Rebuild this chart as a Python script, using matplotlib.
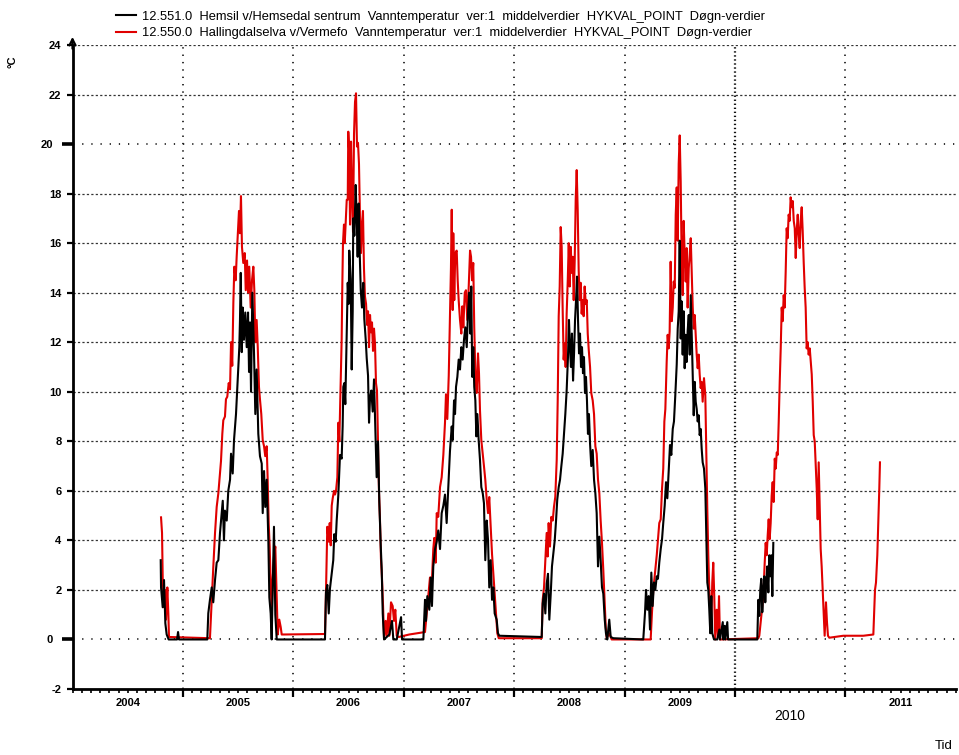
import matplotlib
matplotlib.use('Agg')
from matplotlib import pyplot as plt
from matplotlib import transforms
from matplotlib.ticker import FixedLocator, MultipleLocator, FormatStrFormatter

plt.rcParams['font.family'] = ['Liberation Sans', 'DejaVu Sans']
plt.rcParams['lines.scale_dashes'] = False

# time as decimal year, temperature in deg C (daily means)
hemsil_04 = [(2004.799, 3.2), (2004.802, 2.1), (2004.817, 1.3), (2004.829, 2.4), (2004.841, 0.65), (2004.853, 0.2),
             (2004.871, 0.0), (2004.947, 0.0), (2004.956, 0.3), (2004.965, 0.0)]
hemsil_05 = [(2005.221, 0.0), (2005.230, 1.06), (2005.245, 1.6), (2005.261, 2.1), (2005.275, 1.5), (2005.291, 2.4),
             (2005.306, 3.1), (2005.321, 3.2), (2005.336, 4.3), (2005.351, 5.1), (2005.361, 5.6), (2005.372, 4.0),
             (2005.381, 5.2), (2005.397, 4.8), (2005.411, 6.0), (2005.427, 6.45), (2005.436, 7.5), (2005.451, 6.7),
             (2005.463, 8.05), (2005.481, 9.1), (2005.493, 10.2), (2005.502, 11.0), (2005.511, 11.8), (2005.517, 12.9),
             (2005.524, 14.8), (2005.533, 11.6), (2005.542, 13.4), (2005.553, 12.1), (2005.565, 13.2), (2005.578, 11.8),
             (2005.590, 13.2), (2005.599, 10.8), (2005.608, 12.8), (2005.617, 10.0), (2005.629, 14.0), (2005.644, 11.6),
             (2005.656, 9.1), (2005.668, 10.9), (2005.683, 8.3), (2005.698, 7.4), (2005.714, 7.1), (2005.723, 5.1),
             (2005.735, 6.8), (2005.746, 5.35), (2005.759, 6.45), (2005.774, 4.0), (2005.783, 1.7), (2005.795, 1.05),
             (2005.804, 0.0), (2005.825, 4.55), (2005.837, 1.0), (2005.850, 0.0)]
hemsil_06 = [(2006.287, 0.0), (2006.296, 1.9), (2006.308, 2.2), (2006.321, 1.05), (2006.332, 2.05), (2006.348, 2.65),
             (2006.362, 3.2), (2006.371, 4.25), (2006.384, 3.95), (2006.393, 4.8), (2006.408, 5.85), (2006.417, 6.85),
             (2006.423, 7.45), (2006.438, 7.3), (2006.447, 8.6), (2006.453, 10.2), (2006.462, 10.35), (2006.471, 9.5),
             (2006.484, 12.4), (2006.493, 14.4), (2006.502, 13.55), (2006.507, 15.7), (2006.520, 14.55), (2006.529, 10.9),
             (2006.538, 13.25), (2006.543, 17.0), (2006.553, 16.3), (2006.565, 18.35), (2006.574, 17.0), (2006.583, 15.45),
             (2006.592, 17.6), (2006.601, 15.7), (2006.611, 14.1), (2006.622, 13.4), (2006.634, 14.4), (2006.643, 12.95),
             (2006.656, 12.1), (2006.665, 11.35), (2006.677, 10.65), (2006.686, 8.75), (2006.695, 9.75), (2006.707, 10.05),
             (2006.719, 9.2), (2006.731, 10.5), (2006.743, 8.6), (2006.755, 6.55), (2006.767, 8.0), (2006.779, 5.55),
             (2006.792, 3.8), (2006.801, 2.8), (2006.810, 1.05), (2006.822, 0.0), (2006.846, 0.1), (2006.870, 0.2),
             (2006.894, 0.75), (2006.906, 0.0), (2006.937, 0.0), (2006.976, 0.9), (2006.985, 0.0)]
hemsil_07 = [(2007.178, 0.0), (2007.193, 1.6), (2007.202, 0.75), (2007.214, 1.75), (2007.232, 1.2), (2007.245, 2.5),
             (2007.256, 1.35), (2007.268, 2.95), (2007.284, 3.65), (2007.299, 3.95), (2007.313, 4.4), (2007.329, 3.65),
             (2007.344, 5.1), (2007.359, 5.4), (2007.374, 5.85), (2007.389, 4.7), (2007.404, 6.15), (2007.419, 7.6),
             (2007.435, 8.6), (2007.444, 8.05), (2007.456, 9.65), (2007.465, 9.1), (2007.474, 10.2), (2007.486, 10.6),
             (2007.498, 11.3), (2007.510, 10.9), (2007.522, 11.8), (2007.534, 11.3), (2007.546, 12.1), (2007.558, 12.6),
             (2007.571, 11.8), (2007.582, 13.15), (2007.594, 14.0), (2007.603, 12.35), (2007.612, 14.25), (2007.621, 10.6),
             (2007.630, 11.8), (2007.639, 10.2), (2007.649, 9.65), (2007.658, 8.2), (2007.667, 9.1), (2007.679, 8.05),
             (2007.691, 7.25), (2007.703, 6.15), (2007.716, 5.9), (2007.727, 5.5), (2007.739, 3.2), (2007.752, 4.8),
             (2007.764, 4.0), (2007.775, 2.1), (2007.788, 3.2), (2007.800, 1.6), (2007.812, 2.1), (2007.824, 1.05),
             (2007.842, 0.8), (2007.854, 0.25), (2007.866, 0.15)]
hemsil_08 = [(2008.250, 0.1), (2008.259, 1.45), (2008.271, 1.85), (2008.283, 1.05), (2008.295, 2.25), (2008.307, 2.65),
             (2008.319, 0.8), (2008.332, 1.85), (2008.343, 2.95), (2008.355, 3.45), (2008.368, 4.0), (2008.380, 4.8),
             (2008.391, 5.65), (2008.404, 6.15), (2008.416, 6.45), (2008.428, 7.0), (2008.440, 7.5), (2008.452, 8.3),
             (2008.464, 9.1), (2008.476, 10.05), (2008.488, 11.4), (2008.497, 12.9), (2008.506, 11.8), (2008.515, 11.0),
             (2008.524, 12.35), (2008.534, 10.45), (2008.543, 11.55), (2008.552, 12.9), (2008.561, 13.7), (2008.570, 14.65),
             (2008.579, 12.9), (2008.588, 11.55), (2008.597, 12.35), (2008.606, 11.0), (2008.615, 11.8), (2008.624, 10.75),
             (2008.633, 11.4), (2008.642, 9.95), (2008.651, 10.6), (2008.660, 9.65), (2008.669, 8.3), (2008.678, 9.1),
             (2008.688, 7.9), (2008.699, 7.0), (2008.712, 7.65), (2008.724, 6.45), (2008.736, 5.9), (2008.748, 5.1),
             (2008.760, 2.95), (2008.772, 4.15), (2008.784, 3.2), (2008.796, 2.1), (2008.808, 1.85), (2008.821, 0.8),
             (2008.832, 0.25), (2008.844, 0.0), (2008.862, 0.8), (2008.875, 0.1), (2008.899, 0.05)]
hemsil_09 = [(2009.170, 0.0), (2009.186, 1.1), (2009.195, 2.0), (2009.207, 1.2), (2009.219, 1.75), (2009.231, 0.4),
             (2009.243, 2.7), (2009.255, 1.35), (2009.267, 2.3), (2009.279, 2.0), (2009.292, 2.55), (2009.303, 2.45),
             (2009.315, 3.1), (2009.328, 3.65), (2009.340, 4.05), (2009.351, 4.7), (2009.364, 5.4), (2009.376, 6.35),
             (2009.388, 5.7), (2009.400, 6.75), (2009.412, 7.85), (2009.424, 7.45), (2009.437, 8.5), (2009.448, 8.8),
             (2009.460, 9.85), (2009.473, 11.1), (2009.482, 12.55), (2009.491, 13.25), (2009.500, 16.1), (2009.509, 12.15),
             (2009.518, 13.65), (2009.527, 11.5), (2009.536, 13.25), (2009.545, 10.95), (2009.554, 12.3), (2009.563, 11.2),
             (2009.572, 12.45), (2009.582, 13.1), (2009.591, 11.5), (2009.600, 13.9), (2009.609, 12.3), (2009.618, 10.7),
             (2009.627, 9.05), (2009.636, 10.4), (2009.645, 9.6), (2009.654, 9.3), (2009.663, 8.8), (2009.672, 9.05),
             (2009.681, 8.25), (2009.690, 8.5), (2009.699, 7.7), (2009.708, 7.15), (2009.720, 6.9), (2009.732, 6.1),
             (2009.741, 4.2), (2009.750, 2.3), (2009.759, 2.0), (2009.768, 1.2), (2009.777, 0.25), (2009.786, 1.75),
             (2009.795, 0.25), (2009.811, 0.0), (2009.841, 0.0), (2009.859, 0.4), (2009.865, 0.0), (2009.890, 0.7),
             (2009.895, 0.0), (2009.908, 0.55), (2009.913, 0.0), (2009.931, 0.7), (2009.938, 0.0)]
hemsil_10 = [(2010.203, 0.0), (2010.212, 1.6), (2010.221, 0.95), (2010.230, 2.0), (2010.239, 2.45), (2010.248, 1.1),
             (2010.257, 2.0), (2010.266, 2.55), (2010.275, 1.5), (2010.284, 2.3), (2010.293, 2.95), (2010.303, 1.9),
             (2010.312, 3.4), (2010.321, 2.55), (2010.330, 3.4), (2010.339, 1.75), (2010.348, 3.9)]

halling_04 = [(2004.802, 4.93), (2004.811, 4.3), (2004.817, 2.5), (2004.829, 1.3), (2004.838, 2.0), (2004.847, 0.8),
              (2004.859, 2.1), (2004.868, 1.05), (2004.874, 0.1)]
halling_05 = [(2005.245, 0.05), (2005.261, 1.6), (2005.275, 2.9), (2005.291, 4.3), (2005.306, 5.35), (2005.321, 5.9),
              (2005.336, 6.7), (2005.345, 7.2), (2005.357, 8.3), (2005.366, 8.85), (2005.381, 9.0), (2005.390, 9.7),
              (2005.402, 9.8), (2005.415, 10.35), (2005.427, 10.1), (2005.436, 12.0), (2005.447, 11.05), (2005.457, 13.6),
              (2005.466, 15.05), (2005.478, 14.5), (2005.487, 15.45), (2005.499, 16.5), (2005.508, 17.3), (2005.517, 16.4),
              (2005.526, 17.9), (2005.535, 15.85), (2005.547, 15.2), (2005.560, 15.6), (2005.569, 14.1), (2005.581, 15.3),
              (2005.590, 14.0), (2005.601, 15.05), (2005.614, 13.4), (2005.626, 14.5), (2005.638, 15.05), (2005.647, 14.1),
              (2005.656, 12.0), (2005.668, 12.9), (2005.678, 11.8), (2005.689, 10.2), (2005.698, 9.7), (2005.710, 9.1),
              (2005.723, 8.05), (2005.735, 7.8), (2005.746, 7.4), (2005.759, 7.8), (2005.768, 6.45), (2005.777, 4.7),
              (2005.786, 3.75), (2005.795, 2.3), (2005.804, 1.05), (2005.813, 2.4), (2005.825, 3.35), (2005.837, 3.75),
              (2005.850, 1.6), (2005.859, 0.2), (2005.873, 0.8), (2005.886, 0.5), (2005.895, 0.2)]
halling_06 = [(2006.287, 0.22), (2006.296, 1.9), (2006.308, 4.55), (2006.321, 3.95), (2006.330, 4.7), (2006.339, 3.8),
              (2006.348, 5.4), (2006.357, 5.7), (2006.369, 6.0), (2006.378, 5.85), (2006.387, 6.0), (2006.399, 6.55),
              (2006.408, 8.75), (2006.417, 8.0), (2006.429, 10.35), (2006.438, 12.1), (2006.444, 14.3), (2006.450, 16.0),
              (2006.459, 16.75), (2006.466, 16.0), (2006.475, 16.9), (2006.484, 17.75), (2006.493, 17.75), (2006.498, 20.5),
              (2006.507, 19.6), (2006.514, 16.75), (2006.523, 20.1), (2006.532, 17.9), (2006.541, 16.45), (2006.550, 20.4),
              (2006.559, 21.7), (2006.568, 22.05), (2006.577, 19.9), (2006.586, 20.05), (2006.595, 19.2), (2006.604, 17.05),
              (2006.613, 15.6), (2006.622, 16.75), (2006.631, 17.3), (2006.640, 15.0), (2006.649, 13.85), (2006.659, 13.55),
              (2006.668, 12.7), (2006.677, 13.25), (2006.686, 11.8), (2006.695, 13.1), (2006.704, 12.4), (2006.713, 12.8),
              (2006.722, 11.65), (2006.731, 12.55), (2006.740, 11.95), (2006.749, 10.35), (2006.758, 10.05), (2006.767, 8.0),
              (2006.776, 6.0), (2006.785, 4.85), (2006.794, 3.25), (2006.803, 2.5), (2006.813, 1.35), (2006.822, 0.05),
              (2006.837, 0.75), (2006.846, 0.15), (2006.861, 1.05), (2006.870, 0.15), (2006.885, 1.5), (2006.900, 1.35),
              (2006.912, 0.75), (2006.924, 1.2), (2006.937, 0.15), (2006.955, 0.1)]
halling_07 = [(2007.050, 0.2), (2007.193, 0.3), (2007.208, 1.05), (2007.223, 1.75), (2007.238, 2.5), (2007.254, 2.2),
              (2007.268, 3.65), (2007.277, 4.1), (2007.290, 3.1), (2007.299, 5.1), (2007.313, 4.95), (2007.329, 6.15),
              (2007.344, 6.55), (2007.359, 7.45), (2007.374, 8.75), (2007.383, 9.9), (2007.395, 8.9), (2007.408, 10.65),
              (2007.419, 12.95), (2007.428, 15.0), (2007.435, 17.35), (2007.444, 13.3), (2007.449, 16.4), (2007.458, 13.7),
              (2007.467, 15.6), (2007.480, 15.7), (2007.489, 14.5), (2007.498, 13.7), (2007.510, 12.9), (2007.522, 12.35),
              (2007.531, 13.45), (2007.540, 12.6), (2007.553, 14.0), (2007.564, 14.1), (2007.576, 12.9), (2007.589, 14.25),
              (2007.601, 15.7), (2007.610, 15.45), (2007.619, 14.5), (2007.630, 15.2), (2007.639, 12.6), (2007.649, 10.75),
              (2007.661, 9.95), (2007.673, 11.55), (2007.682, 10.75), (2007.691, 9.25), (2007.703, 8.05), (2007.716, 7.5),
              (2007.727, 7.0), (2007.739, 6.45), (2007.752, 5.65), (2007.764, 5.1), (2007.775, 5.75), (2007.788, 4.55),
              (2007.800, 3.45), (2007.812, 2.65), (2007.824, 1.85), (2007.836, 1.05), (2007.848, 0.25), (2007.861, 0.05)]
halling_08 = [(2008.250, 0.05), (2008.259, 1.6), (2008.271, 2.1), (2008.283, 3.2), (2008.295, 4.3), (2008.304, 3.35),
              (2008.313, 4.7), (2008.325, 3.75), (2008.337, 4.95), (2008.350, 4.8), (2008.361, 5.35), (2008.373, 5.75),
              (2008.386, 7.25), (2008.395, 9.65), (2008.404, 13.05), (2008.413, 14.25), (2008.422, 16.65), (2008.431, 15.85),
              (2008.440, 13.3), (2008.449, 11.3), (2008.458, 11.95), (2008.467, 11.0), (2008.476, 13.15), (2008.486, 14.5),
              (2008.495, 16.0), (2008.504, 14.25), (2008.513, 15.85), (2008.522, 14.8), (2008.531, 15.45), (2008.540, 13.7),
              (2008.549, 15.3), (2008.558, 17.75), (2008.567, 18.95), (2008.576, 17.35), (2008.585, 14.9), (2008.594, 13.7),
              (2008.603, 14.4), (2008.612, 13.15), (2008.621, 13.7), (2008.630, 13.05), (2008.639, 14.25), (2008.649, 13.55),
              (2008.658, 13.7), (2008.667, 12.35), (2008.676, 11.7), (2008.688, 11.0), (2008.699, 9.95), (2008.712, 9.65),
              (2008.724, 9.1), (2008.736, 7.8), (2008.748, 7.5), (2008.760, 6.45), (2008.772, 5.9), (2008.784, 4.8),
              (2008.796, 3.9), (2008.808, 2.8), (2008.821, 1.45), (2008.830, 0.5), (2008.839, 0.05), (2008.862, 0.25),
              (2008.884, 0.0)]
halling_09 = [(2009.237, 0.0), (2009.249, 1.1), (2009.261, 2.0), (2009.276, 2.7), (2009.292, 3.4), (2009.303, 4.05),
              (2009.315, 4.7), (2009.328, 4.85), (2009.340, 6.1), (2009.351, 6.9), (2009.361, 8.8), (2009.370, 9.3),
              (2009.382, 11.2), (2009.391, 12.3), (2009.400, 11.75), (2009.409, 12.45), (2009.418, 15.25), (2009.428, 12.85),
              (2009.437, 13.4), (2009.446, 14.45), (2009.455, 14.2), (2009.464, 17.15), (2009.473, 18.25), (2009.482, 16.1),
              (2009.491, 19.2), (2009.500, 20.35), (2009.509, 18.5), (2009.518, 15.25), (2009.527, 13.9), (2009.536, 16.9),
              (2009.545, 15.55), (2009.554, 14.45), (2009.563, 15.8), (2009.572, 13.4), (2009.582, 15.0), (2009.591, 15.55),
              (2009.600, 16.2), (2009.609, 14.75), (2009.618, 13.4), (2009.627, 12.55), (2009.636, 13.1), (2009.645, 12.3),
              (2009.654, 11.5), (2009.663, 10.95), (2009.672, 11.5), (2009.681, 10.7), (2009.690, 10.15), (2009.699, 10.4),
              (2009.708, 9.6), (2009.720, 10.55), (2009.732, 9.85), (2009.741, 7.45), (2009.750, 5.25), (2009.759, 3.4),
              (2009.768, 2.0), (2009.777, 1.2), (2009.786, 0.7), (2009.795, 2.3), (2009.804, 3.1), (2009.813, 1.75),
              (2009.822, 0.0), (2009.835, 1.2), (2009.847, 0.15), (2009.856, 1.75), (2009.865, 0.0)]
halling_10 = [(2010.212, 0.05), (2010.221, 0.15), (2010.234, 0.7), (2010.245, 1.2), (2010.257, 1.75), (2010.270, 3.1),
              (2010.279, 3.9), (2010.288, 3.4), (2010.297, 4.2), (2010.306, 4.85), (2010.315, 4.05), (2010.324, 4.7),
              (2010.333, 5.8), (2010.342, 6.35), (2010.351, 5.55), (2010.361, 7.3), (2010.370, 6.9), (2010.379, 7.55),
              (2010.388, 7.45), (2010.397, 8.8), (2010.406, 10.4), (2010.415, 11.75), (2010.424, 13.4), (2010.433, 12.85),
              (2010.442, 13.9), (2010.451, 13.4), (2010.460, 14.85), (2010.469, 16.6), (2010.478, 16.2), (2010.487, 17.15),
              (2010.496, 16.9), (2010.505, 17.85), (2010.515, 17.45), (2010.524, 17.7), (2010.533, 16.9), (2010.542, 16.6),
              (2010.551, 15.4), (2010.560, 16.5), (2010.569, 17.15), (2010.578, 16.35), (2010.587, 15.8), (2010.596, 16.9),
              (2010.605, 17.45), (2010.614, 16.5), (2010.623, 15.25), (2010.632, 14.2), (2010.641, 13.4), (2010.650, 11.75),
              (2010.659, 12.0), (2010.668, 11.5), (2010.678, 11.75), (2010.687, 11.2), (2010.696, 10.7), (2010.705, 9.6),
              (2010.714, 8.25), (2010.723, 8.0), (2010.732, 7.0), (2010.741, 6.1), (2010.750, 4.85), (2010.759, 7.15),
              (2010.768, 5.4), (2010.777, 3.65), (2010.786, 2.95), (2010.795, 2.0), (2010.804, 1.1), (2010.813, 0.15),
              (2010.825, 1.5), (2010.834, 0.7), (2010.843, 0.15), (2010.855, 0.07), (2010.982, 0.15)]
halling_11 = [(2011.163, 0.15), (2011.254, 0.2), (2011.269, 2.0), (2011.278, 2.3), (2011.290, 3.4), (2011.299, 4.7),
              (2011.308, 6.1), (2011.314, 7.15)]

hemsil_label = '12.551.0  Hemsil v/Hemsedal sentrum  Vanntemperatur  ver:1  middelverdier  HYKVAL_POINT  Døgn-verdier'
halling_label = '12.550.0  Hallingdalselva v/Vermefo  Vanntemperatur  ver:1  middelverdier  HYKVAL_POINT  Døgn-verdier'

years = [2004, 2005, 2006, 2007, 2008, 2009, 2010, 2011]
y_ticks = [-2, 0, 2, 4, 6, 8, 10, 12, 14, 16, 18, 20, 22, 24]
y_major = [0, 20]


def main():
	hemsil = hemsil_04 + hemsil_05 + hemsil_06 + hemsil_07 + hemsil_08 + hemsil_09 + hemsil_10
	halling = halling_04 + halling_05 + halling_06 + halling_07 + halling_08 + halling_09 + halling_10 + halling_11
	ht, hv = zip(*hemsil)
	rt, rv = zip(*halling)

	fig = plt.figure(figsize=(9.59, 7.55), dpi=100)
	ax = fig.add_axes([72.5 / 959, 1 - 689 / 755, 883.2 / 959, 644 / 755])
	ax.set_xlim(2004, 2012)
	ax.set_ylim(-2, 24)

	# grid: dashed on minor values, sparse dots on 0 and 20, dotted year lines
	for y in y_ticks[1:]:
		if y in y_major:
			ax.axhline(y, color='#222222', lw=1.3, ls=(0, (0.9, 5.7)), zorder=0)
		else:
			ax.axhline(y, color='#333333', lw=0.9, ls=(0, (1.6, 1.6)), zorder=0)
	for yr in years[1:]:
		if yr == 2010:
			ax.axvline(yr, color='#111111', lw=1.6, ls=(0, (1.0, 1.9)), zorder=0)
		else:
			ax.axvline(yr, color='#222222', lw=1.3, ls=(0, (1.0, 4.3)), zorder=0)

	red, = ax.plot(rt, rv, color='#e00000', lw=1.5, label=halling_label)
	black, = ax.plot(ht, hv, color='black', lw=1.5, label=hemsil_label)

	for side in ['top', 'right']:
		ax.spines[side].set_visible(False)
	ax.spines['left'].set_linewidth(2)
	ax.spines['bottom'].set_linewidth(2)
	ax.annotate('', xy=(0, 1.017), xytext=(0, 0.99), xycoords='axes fraction',
				arrowprops=dict(arrowstyle='->', color='black', lw=1.6, mutation_scale=11),
				annotation_clip=False)

	# y ticks
	ax.yaxis.set_major_locator(FixedLocator(y_major))
	ax.yaxis.set_minor_locator(FixedLocator([y for y in y_ticks if y not in y_major]))
	ax.yaxis.set_major_formatter(FormatStrFormatter('%d'))
	ax.yaxis.set_minor_formatter(FormatStrFormatter('%d'))
	ax.tick_params(axis='y', which='minor', length=4, width=1.6, pad=4, labelsize=8)
	ax.tick_params(axis='y', which='major', length=8, width=2.6, pad=6, labelsize=8)
	for lab in ax.get_yticklabels(which='both'):
		lab.set_fontweight('bold')

	# x ticks: months, years, 2010 heavy
	ax.xaxis.set_major_locator(FixedLocator(years[1:]))
	ax.xaxis.set_minor_locator(MultipleLocator(1 / 12))
	ax.tick_params(axis='x', which='major', length=6, width=1.6, labelbottom=False)
	ax.tick_params(axis='x', which='minor', length=3, width=1.2)
	for tick in ax.xaxis.get_major_ticks():
		if abs(tick.get_loc() - 2010) < 1e-6:
			tick.tick1line.set_markersize(10)
			tick.tick1line.set_markeredgewidth(2.6)

	trans = transforms.blended_transform_factory(ax.transData, ax.transAxes)
	for yr in years:
		if yr == 2010:
			ax.text(yr + 0.5, -0.031, str(yr), transform=trans, ha='center', va='top', fontsize=10)
		else:
			ax.text(yr + 0.5, -0.014, str(yr), transform=trans, ha='center', va='top',
					fontsize=8, fontweight='bold')

	fig.text(13 / 959, 1 - 62 / 755, '°C', rotation=90, ha='center', va='center', fontsize=8, fontweight='bold')
	fig.text(944 / 959, 1 - 746 / 755, 'Tid', ha='center', va='center', fontsize=9.5)

	fig.legend(handles=[black, red], loc='upper left', bbox_to_anchor=(0.118, 0.9894), frameon=False,
			   fontsize=9.3, handlelength=1.6, handletextpad=0.45, labelspacing=0.35,
			   borderpad=0.2, borderaxespad=0)

	fig.savefig('out.png', dpi=100)
	plt.close('all')


if __name__ == "__main__":
	main()
